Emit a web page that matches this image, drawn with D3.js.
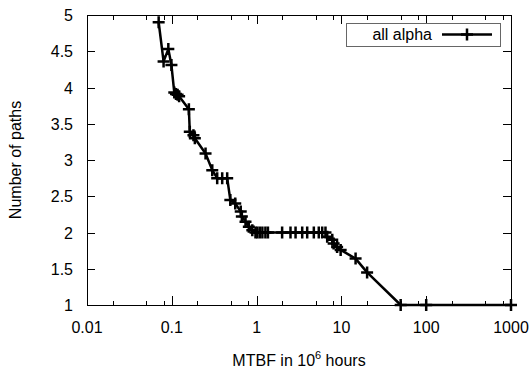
<!DOCTYPE html>
<html>
<head>
<meta charset="utf-8">
<script src="https://d3js.org/d3.v7.min.js"></script>
<style>
  body { margin: 0; background: #fff; }
  text { font-family: "Liberation Sans", Arial, sans-serif; font-size: 16px; fill: #000; }
</style>
</head>
<body>
<div id="chart"></div>
<script>
// MTBF (10^6 hours) vs number of paths
var mtbf = [0.070, 0.080, 0.091, 0.099, 0.107, 0.112, 0.117, 0.122, 0.159, 0.163,
            0.180, 0.187, 0.250, 0.300, 0.343, 0.393, 0.450, 0.490, 0.560, 0.650,
            0.670, 0.740, 0.810, 0.890, 0.970, 1.02, 1.09, 1.17, 1.27, 1.36,
            2.00, 2.51, 2.88, 3.45, 3.95, 4.73, 5.41, 5.94, 6.49, 6.80,
            7.80, 8.10, 8.90, 9.80, 14.7, 20.1, 50, 100, 1000];
var paths = [4.90, 4.36, 4.53, 4.31, 3.93, 3.91, 3.90, 3.88, 3.70, 3.39,
             3.34, 3.30, 3.09, 2.86, 2.75, 2.75, 2.75, 2.45, 2.40, 2.29,
             2.22, 2.15, 2.08, 2.03, 2.00, 2.00, 2.00, 2.00, 2.00, 2.00,
             2.00, 2.00, 2.00, 2.00, 2.00, 2.00, 2.00, 2.00, 2.00, 1.94,
             1.90, 1.85, 1.80, 1.76, 1.64, 1.45, 1.00, 1.00, 1.00];
var xTicks = [0.01, 0.1, 1, 10, 100, 1000];
var xMinor = [2, 5, 8];
var yTicks = [1, 1.5, 2, 2.5, 3, 3.5, 4, 4.5, 5];
var seriesName = "all alpha";

var width = 532, height = 373
  , margin = {left: 87, right: 21, top: 15, bottom: 68}
  , x0 = margin.left, x1 = width - margin.right
  , y0 = height - margin.bottom, y1 = margin.top;

var svg = d3.select("#chart").append("svg")
    .attr("width", width)
    .attr("height", height);

var x = d3.scaleLog().domain([0.01, 1000]).range([x0, x1]);
var y = d3.scaleLinear().domain([1, 5]).range([y0, y1]);

// minor ticks: 2, 5, 8 in every decade
var minor = [];
xTicks.slice(0, -1).forEach(t => xMinor.forEach(m => minor.push(t * m)));

var axes = svg.append("g").attr("stroke", "#000").attr("stroke-width", 1).attr("shape-rendering", "crispEdges");

// ticks point inward, mirrored on top and right
axes.selectAll(".xmaj").data(xTicks).join("path")
    .attr("d", d => `M${Math.round(x(d)) + 0.5},${y0}v-9M${Math.round(x(d)) + 0.5},${y1}v9`);
axes.selectAll(".xmin").data(minor).join("path")
    .attr("d", d => `M${Math.round(x(d)) + 0.5},${y0}v-4.5M${Math.round(x(d)) + 0.5},${y1}v4.5`);
axes.selectAll(".ymaj").data(yTicks).join("path")
    .attr("d", d => `M${x0},${Math.round(y(d)) + 0.5}h8M${x1},${Math.round(y(d)) + 0.5}h-8`);

axes.append("rect")
    .attr("x", x0 + 0.5).attr("y", y1 + 0.5)
    .attr("width", x1 - x0).attr("height", y0 - y1)
    .attr("fill", "none");

svg.append("g").selectAll("text").data(xTicks).join("text")
    .attr("x", d => x(d))
    .attr("y", y0 + 28)
    .attr("text-anchor", "middle")
    .text(d => d3.format("~g")(d));

svg.append("g").selectAll("text").data(yTicks).join("text")
    .attr("x", x0 - 14)
    .attr("y", d => y(d) + 6)
    .attr("text-anchor", "end")
    .text(d => d);

// axis titles
var xl = svg.append("text")
    .attr("x", (x0 + x1) / 2)
    .attr("y", 366)
    .attr("text-anchor", "middle");
xl.append("tspan").text("MTBF in 10");
xl.append("tspan").attr("dy", -7).style("font-size", "11px").text("6");
xl.append("tspan").attr("dy", 7).text(" hours");

svg.append("text")
    .attr("transform", `translate(21,${(y0 + y1) / 2}) rotate(-90)`)
    .attr("text-anchor", "middle")
    .text("Number of paths");

// data line + markers
var pts = d3.zip(mtbf, paths);
var line = d3.line().x(d => x(d[0])).y(d => y(d[1]));

function cross(g, s) {
  return g.attr("d", `M${-s},0h${2 * s}M0,${-s}v${2 * s}`);
}

var plot = svg.append("g").attr("stroke", "#000").attr("fill", "none").attr("stroke-width", 2.5);
plot.append("path").datum(pts).attr("d", line).attr("stroke-linejoin", "round");
plot.selectAll(".pt").data(pts).join("path")
    .attr("transform", d => `translate(${x(d[0])},${y(d[1])})`)
    .call(cross, 6);

// legend
var lg = svg.append("g");
lg.append("rect")
    .attr("x", 346.5).attr("y", 23.5).attr("width", 154).attr("height", 23)
    .attr("fill", "none").attr("stroke", "#666").attr("stroke-width", 1);
lg.append("text")
    .attr("x", 432).attr("y", 40)
    .attr("text-anchor", "end")
    .text(seriesName);
lg.append("path")
    .attr("d", "M442,34.5H492")
    .attr("stroke", "#000").attr("stroke-width", 2.5);
lg.append("path")
    .attr("transform", "translate(467,34.5)")
    .attr("stroke", "#000").attr("stroke-width", 2.5)
    .call(cross, 6);
</script>
</body>
</html>
